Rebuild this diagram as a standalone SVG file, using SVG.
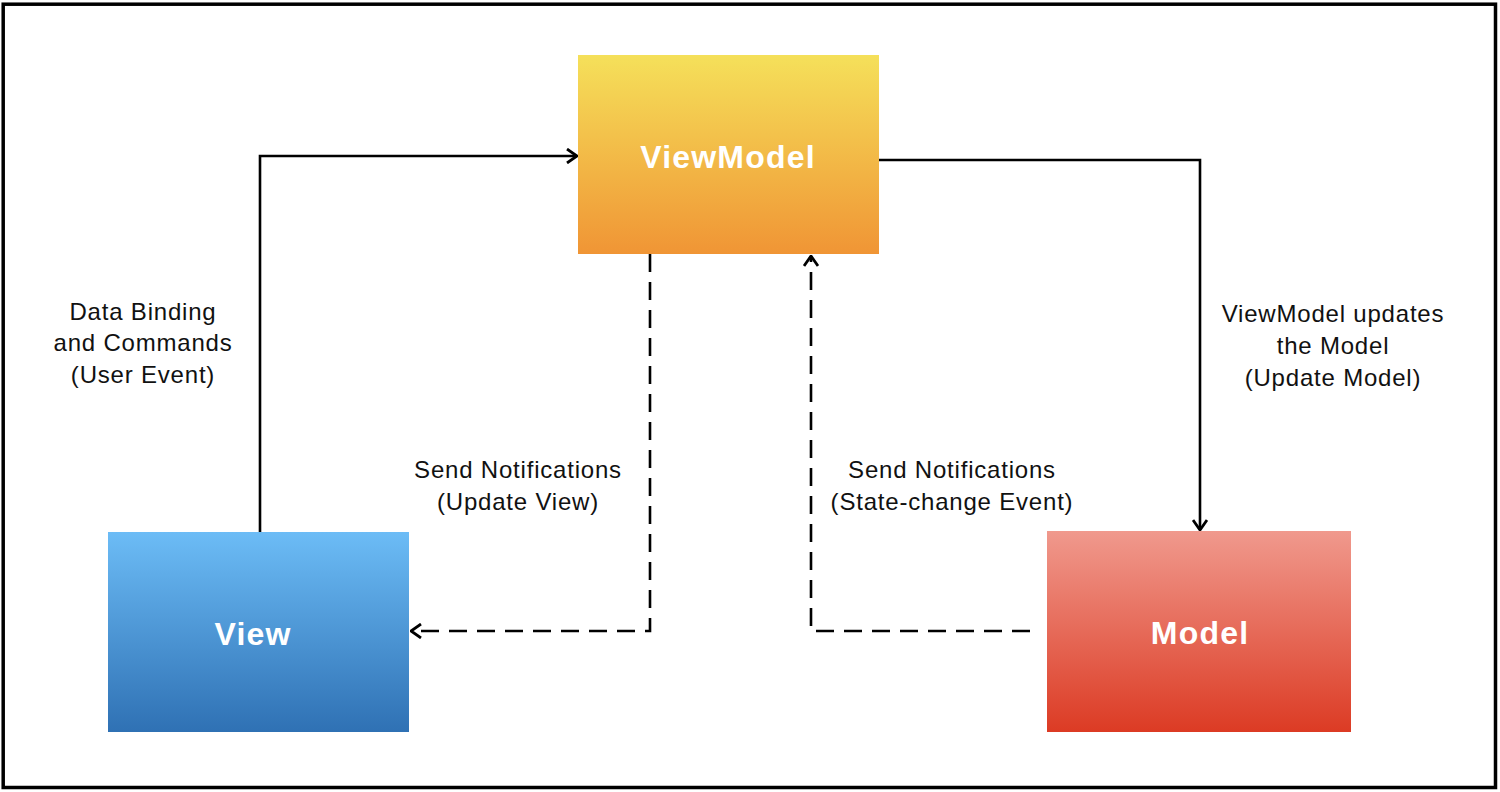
<svg xmlns="http://www.w3.org/2000/svg" width="1500" height="792" viewBox="0 0 1500 792">
<style>
.lbl{font-family:"Liberation Sans",Arial,sans-serif;font-size:24px;letter-spacing:0.8px;fill:#111;text-anchor:middle}
.box{font-family:"Liberation Sans",Arial,sans-serif;font-size:32px;letter-spacing:1.2px;font-weight:bold;fill:#fff;text-anchor:middle}
.ln{fill:none;stroke:#000;stroke-width:2.6}
.dash{stroke-dasharray:18 10}
</style>
<defs>
<linearGradient id="gVM" x1="0" y1="0" x2="0" y2="1"><stop offset="0" stop-color="#F5E05A"/><stop offset="1" stop-color="#F09535"/></linearGradient>
<linearGradient id="gV" x1="0" y1="0" x2="0" y2="1"><stop offset="0" stop-color="#6CBCF6"/><stop offset="1" stop-color="#2F71B4"/></linearGradient>
<linearGradient id="gM" x1="0" y1="0" x2="0" y2="1"><stop offset="0" stop-color="#F0998D"/><stop offset="1" stop-color="#DC3B24"/></linearGradient>
<marker id="arr" viewBox="0 0 12 16" refX="11" refY="8" markerWidth="12" markerHeight="16" markerUnits="userSpaceOnUse" orient="auto">
<path d="M1,1 L11,8 L1,15" fill="none" stroke="#000" stroke-width="2.8"/>
</marker>
</defs>
<rect x="3.2" y="4.2" width="1492.3" height="783.3" fill="#fff" stroke="#000" stroke-width="3.5"/>
<g id="connectors">
<path class="ln" d="M260,532 V156 H577" marker-end="url(#arr)"/>
<path class="ln" d="M879,160 H1200 V530" marker-end="url(#arr)"/>
<path class="ln dash" d="M650,254 V631 H411" marker-end="url(#arr)"/>
<path class="ln dash" d="M1030,631 H811 V256" marker-end="url(#arr)"/>
</g>
<g id="viewmodel">
<rect x="578" y="55" width="301" height="199" fill="url(#gVM)"/>
<text class="box" x="728" y="168">ViewModel</text>
</g>
<g id="view">
<rect x="108" y="532" width="301" height="200" fill="url(#gV)"/>
<text class="box" x="253" y="645">View</text>
</g>
<g id="model">
<rect x="1047" y="531" width="304" height="201" fill="url(#gM)"/>
<text class="box" x="1200" y="644">Model</text>
</g>
<g id="labels">
<text class="lbl" x="143" y="320">Data Binding</text>
<text class="lbl" x="143" y="351">and Commands</text>
<text class="lbl" x="143" y="383">(User Event)</text>
<text class="lbl" x="1333" y="322">ViewModel updates</text>
<text class="lbl" x="1333" y="354">the Model</text>
<text class="lbl" x="1333" y="386">(Update Model)</text>
<text class="lbl" x="518" y="478">Send Notifications</text>
<text class="lbl" x="518" y="510">(Update View)</text>
<text class="lbl" x="952" y="478">Send Notifications</text>
<text class="lbl" x="952" y="510">(State-change Event)</text>
</g>
</svg>
